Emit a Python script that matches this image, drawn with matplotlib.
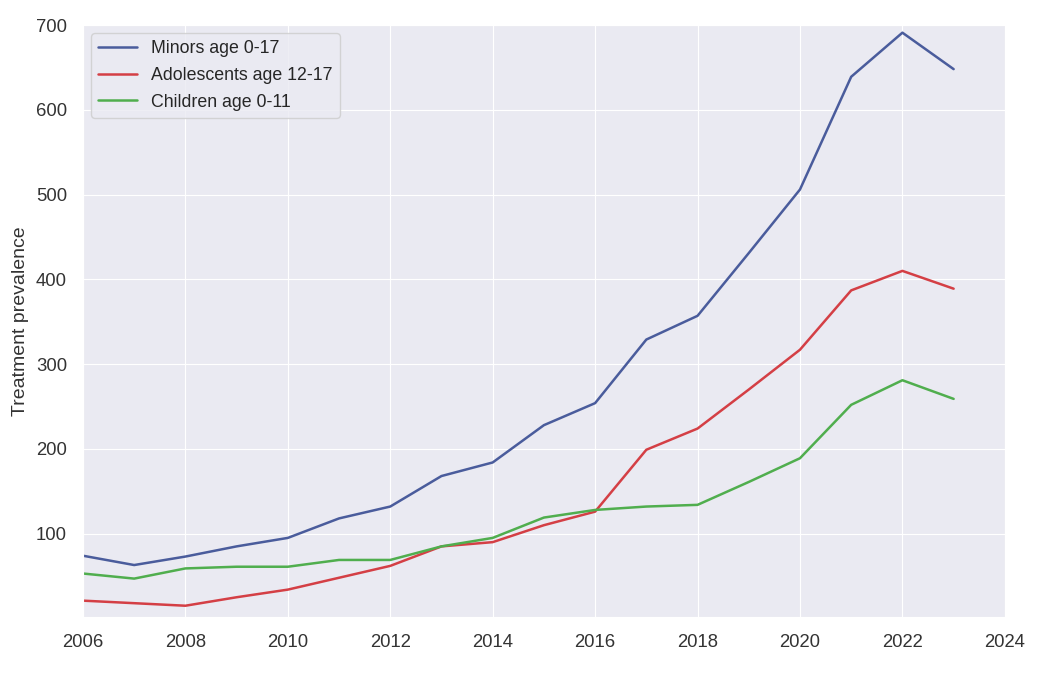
import numpy as np
import pandas as pd
import matplotlib
matplotlib.use('Agg')
import matplotlib.pyplot as plt
import seaborn as sns

years=list(range(2006,2024))
minors=[74,63,73,85,95,118,132,168,184,228,254,329,357,431,506,639,691,648]
adolescents=[21,18,15,25,34,48,62,85,90,110,126,199,224,270,317,387,410,389]
children=[53,47,59,61,61,69,69,85,95,119,128,132,134,161,189,252,281,259]

sns.set_style('darkgrid')
plt.rcParams['font.family']=['Liberation Sans','DejaVu Sans']

fig,ax=plt.subplots(figsize=(10.5,6.77),dpi=100)
fig.subplots_adjust(left=0.079,right=0.957,top=0.963,bottom=0.089)
ax.plot(years,minors,color='#4A5C9C',lw=1.8,label='Minors age 0-17')
ax.plot(years,adolescents,color='#D43F45',lw=1.8,label='Adolescents age 12-17')
ax.plot(years,children,color='#50AE4E',lw=1.8,label='Children age 0-11')
ax.set_xlim(2006,2024)
ax.set_ylim(2,700)
ax.set_xticks(range(2006,2025,2))
ax.set_yticks(range(100,701,100))
ax.tick_params(labelsize=13.3,colors='#333333')
ax.tick_params(axis='x',pad=9)
ax.tick_params(axis='y',pad=8)
ax.set_ylabel('Treatment prevalence',fontsize=14,color='#333333',labelpad=5)
ax.legend(loc='upper left',fontsize=12.8,frameon=True,labelspacing=0.55,
          borderaxespad=0.45,handlelength=2.2)
fig.savefig('out.png',dpi=100)
